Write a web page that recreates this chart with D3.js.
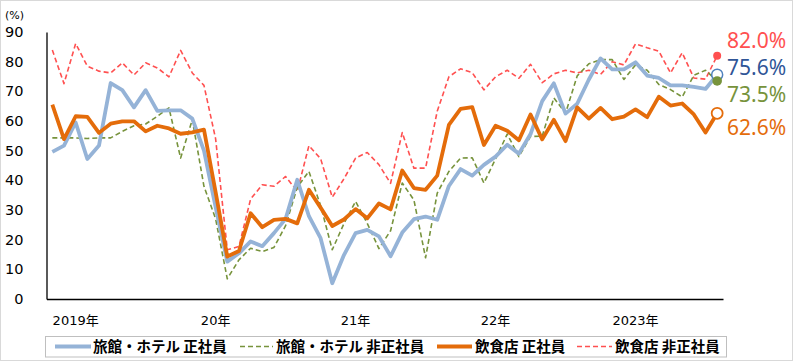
<!DOCTYPE html>
<html><head><meta charset="utf-8">
<script src="https://cdn.jsdelivr.net/npm/d3@7/dist/d3.min.js"></script>
<style>body{margin:0;background:#fff}svg{display:block}</style>
</head><body><svg id="c" width="793" height="361"></svg>
<script>
const months = d3.range(58).map(i => { const y = 2019 + Math.floor(i/12); const m = i%12+1; return y + "-" + (m<10?"0":"") + m; });
const tickIndex = [2, 14, 26, 38, 50];
const tickLabels = ["2019年", "20年", "21年", "22年", "2023年"];
const yTicks = [0,10,20,30,40,50,60,70,80,90];
const seriesNames = ["旅館・ホテル 正社員", "旅館・ホテル 非正社員", "飲食店 正社員", "飲食店 非正社員"];
const hotelRegular = [49.6,51.7,59.5,47.2,51.7,72.8,70.4,64.6,70.4,63.4,63.6,63.6,60.8,50.0,31.0,12.6,15.4,19.4,17.8,22.2,27.0,40.2,27.9,20.5,5.3,14.8,22.2,23.3,21.1,14.4,22.4,26.9,27.8,26.7,38.1,43.8,41.6,45.2,48.0,52.0,49.0,55.6,66.7,72.7,62.5,65.8,74.0,81.1,77.4,77.4,79.8,75.3,74.5,72.0,72.0,71.5,70.8,75.6];
const hotelNonRegular = [54.3,54.3,54.3,54.1,54.3,54.3,56.5,58.4,59.0,61.6,64.4,47.5,60.5,38.0,27.0,6.8,13.2,17.1,16.0,17.4,24.7,37.7,43.0,31.5,16.6,25.4,32.9,25.5,17.0,23.0,39.1,33.4,13.9,35.7,43.0,47.5,47.6,39.1,47.2,55.6,48.0,54.8,54.9,67.8,62.6,75.2,79.3,80.7,80.7,74.0,78.9,77.1,72.3,70.6,68.1,75.4,77.1,73.5];
const restRegular = [65.5,53.9,61.6,61.4,56.0,59.1,59.9,59.9,56.5,58.4,57.5,55.7,56.2,57.1,36.0,14.3,16.2,28.9,24.2,26.7,27.0,25.5,36.8,30.8,24.6,26.8,30.3,27.2,32.2,30.2,43.3,37.4,36.8,41.6,58.7,64.1,64.7,51.9,58.4,56.7,53.5,62.2,53.8,60.4,53.2,64.6,60.8,64.4,60.6,61.5,63.9,61.3,68.2,65.2,65.9,62.2,56.1,62.6];
const restNonRegular = [83.9,72.6,86.1,78.5,76.8,76.2,79.6,75.5,79.6,77.9,74.9,83.8,76.2,72.0,54.0,16.6,17.7,33.7,38.5,38.0,41.3,36.3,51.7,47.3,34.3,40.5,47.5,49.4,45.3,39.0,56.1,44.1,44.1,63.3,74.9,77.6,76.3,70.5,74.9,77.1,74.4,79.1,72.9,75.9,77.1,76.2,77.1,75.7,80.0,78.9,86.0,84.7,83.5,76.2,83.0,74.5,74.1,82.0];
const endLabels = ["82.0%", "75.6%", "73.5%", "62.6%"];

const svg = d3.select("#c");
svg.append("rect").attr("x",0.5).attr("y",0.5).attr("width",792).attr("height",360).attr("fill","#fff").attr("stroke","#d9d9d9");

const x = d3.scaleBand().domain(months).range([46.5, 723]);
const cx = d => x(d) + x.bandwidth()/2;
const y = d3.scaleLinear().domain([0, 90]).range([299, 32]);

// axes
const yAxis = svg.append("g").attr("transform","translate(46.5,0)")
  .call(d3.axisLeft(y).tickValues(yTicks).tickSize(0).tickPadding(23).tickFormat(d3.format("d")));
yAxis.select(".domain").attr("stroke","#000").attr("stroke-width",1.3);
yAxis.selectAll("text").attr("font-family","DejaVu Sans, Verdana, sans-serif").attr("font-size",14.5).attr("fill","#000");

const xAxis = svg.append("g").attr("transform","translate(0,299)")
  .call(d3.axisBottom(x).tickValues(tickIndex.map(i => months[i])).tickSize(0).tickPadding(17)
    .tickFormat(d => tickLabels[tickIndex.indexOf(months.indexOf(d))]));
xAxis.select(".domain").attr("stroke","#000").attr("stroke-width",1.3);
xAxis.selectAll("text").attr("font-family","DejaVu Sans, 'Noto Sans CJK JP', sans-serif").attr("font-size",13).attr("fill","#000");

svg.append("text").attr("x",5).attr("y",19).text("(%)")
  .attr("font-family","DejaVu Sans, sans-serif").attr("font-size",11).attr("fill","#000");

const line = d3.line().x((d,i) => cx(months[i])).y(d => y(d)).curve(d3.curveLinear);
const styles = [
  {data: hotelRegular, color:"#95b3d7", w:3.8, dash:null},
  {data: hotelNonRegular, color:"#77933c", w:1.6, dash:"5,3"},
  {data: restRegular, color:"#e46c0a", w:3.8, dash:null},
  {data: restNonRegular, color:"#ff5050", w:1.6, dash:"5,3"}
];
const drawOrder = [3, 1, 0, 2];
drawOrder.forEach(k => {
  const s = styles[k];
  svg.append("path").datum(s.data).attr("d", line).attr("fill","none")
    .attr("stroke", s.color).attr("stroke-width", s.w).attr("stroke-linejoin","round")
    .attr("stroke-dasharray", s.dash);
});

// end markers
const last = months.length - 1;
const lx = cx(months[last]);
svg.append("circle").attr("cx",lx).attr("cy",y(restNonRegular[last])).attr("r",4).attr("fill","#ff5050");
svg.append("circle").attr("cx",lx).attr("cy",y(hotelRegular[last])).attr("r",5.5).attr("fill","#fff").attr("stroke","#4f81bd").attr("stroke-width",1.5);
svg.append("circle").attr("cx",lx).attr("cy",y(hotelNonRegular[last])).attr("r",4.8).attr("fill","#77933c");
svg.append("circle").attr("cx",lx).attr("cy",y(restRegular[last])).attr("r",5.5).attr("fill","#fff").attr("stroke","#e46c0a").attr("stroke-width",1.8);

// end labels
const labelY = [40, 67, 94, 127];
const labelColors = ["#ff5050", "#2f5597", "#77933c", "#e46c0a"];
endLabels.forEach((t,i) => {
  svg.append("text").attr("x",727).attr("y",labelY[i]).attr("dy","0.36em").text(t)
    .attr("font-family","'Noto Sans', 'Open Sans', sans-serif").attr("font-size",21).attr("fill",labelColors[i]);
});

// legend
svg.append("rect").attr("x",45.5).attr("y",336.5).attr("width",681).attr("height",20.5).attr("fill","#fff").attr("stroke","#bfbfbf");
const legX = [[55,91,93],[240,273,276],[437,472,475],[577,612,615]];
seriesNames.forEach((n,i) => {
  const s = styles[i];
  svg.append("line").attr("x1",legX[i][0]).attr("x2",legX[i][1]).attr("y1",346.5).attr("y2",346.5)
    .attr("stroke",s.color).attr("stroke-width",s.w).attr("stroke-dasharray",s.dash);
  svg.append("text").attr("x",legX[i][2]).attr("y",346.5).attr("dy","0.36em").text(n)
    .attr("font-family","'Noto Sans CJK JP', sans-serif").attr("font-weight","bold").attr("font-size",14.5).attr("fill","#000");
});
</script></body></html>
